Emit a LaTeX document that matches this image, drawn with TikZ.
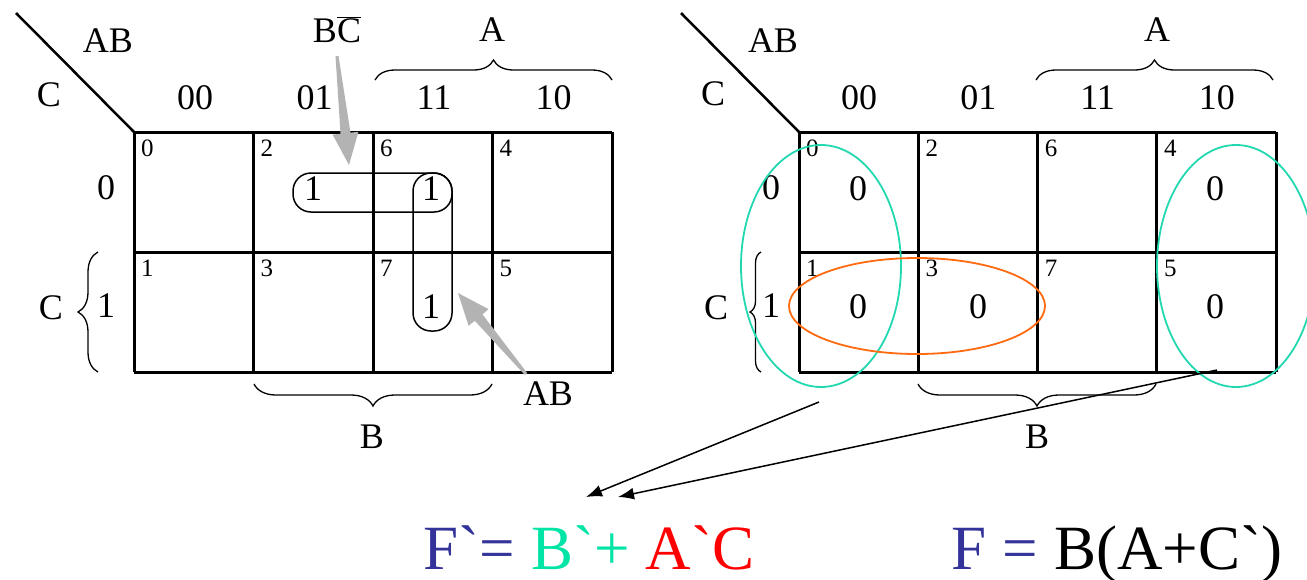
\documentclass[tikz,border=0pt]{standalone}
\usepackage{fontspec}
\newfontfamily\kfont{LiberationSerif-Regular.ttf}
\usetikzlibrary{arrows.meta,calc,decorations.pathreplacing}
\definecolor{eq-blue}{HTML}{333399}
\definecolor{eq-green}{HTML}{00E5A5}
\definecolor{ring-teal}{HTML}{22D8B0}
\definecolor{ring-orange}{HTML}{FF6A10}
\definecolor{hint-gray}{HTML}{B3B3B3}

% tapered grey hint arrow: tail, tip
\newcommand{\fatarrow}[2]{%
  \coordinate (fa-base) at ($(#2)!32pt!(#1)$);
  \fill[hint-gray] ($(#1)!1.5pt!90:(#2)$) -- ($(fa-base)!5pt!-90:(#1)$)
    -- ($(fa-base)!13pt!-90:(#1)$) -- (#2) -- ($(fa-base)!13pt!90:(#1)$)
    -- ($(fa-base)!5pt!90:(#1)$) -- ($(#1)!1.5pt!-90:(#2)$) -- cycle;}

\begin{document}
\begin{tikzpicture}[x=1pt, y=-1pt,
    every node/.style={font=\kfont\fontsize{36}{40}\selectfont, inner sep=0pt},
    cellnum/.style={font=\kfont\fontsize{25}{28}\selectfont, anchor=north west},
    kgrid/.style={line width=3pt},
    kdiag/.style={line width=2.5pt},
    brc/.style={decorate, decoration={brace, amplitude=#1}, line width=1.3pt},
    onesloop/.style={line width=1.5pt, rounded corners=18pt},
    ring/.style={line width=1.8pt},
    pointer/.style={line width=1.5pt, -{Latex[length=16pt, width=12pt]}},
    eqfont/.style={font=\kfont\fontsize{63}{70}\selectfont, anchor=base}]
  \useasboundingbox (0,0) rectangle (1307,579);

  % ---- left map: the ones of F
  \draw[kdiag] (16,13) -- (134,132);
  \foreach \k in {0,...,4}
    \draw[kgrid] (134+119.5*\k,132) -- (134+119.5*\k,372);
  \foreach \r in {0,1,2}
    \draw[kgrid] (134,132+120*\r) -- (612,132+120*\r);
  \foreach \n [count=\k from 0] in {0,2,6,4}
    \node[cellnum] (L-n\n) at (141+119.5*\k,140) {\n};
  \foreach \n [count=\k from 0] in {1,3,7,5}
    \node[cellnum] (L-n\n) at (141+119.5*\k,260) {\n};
  \node (L-ab) at (108,41) {AB};
  \node (L-c) at (49,95) {C};
  \foreach \lab [count=\k from 0] in {00,01,11,10}
    \node (L-col\lab) at (195+119.5*\k,98) {\lab};
  \node (L-a) at (492,30) {A};
  \node (L-bc) at (337,30) {B$\overline{\hbox{C}}$};
  \node (L-r0) at (106,188) {0};
  \node (L-r1) at (106,306) {1};
  \node (L-cc) at (51,308) {C};
  \node (L-b) at (372,437) {B};
  \node (L-abx) at (548,394) {AB};
  \draw[brc=20] (375,80) -- (612,80);
  \draw[brc=20] (98,372) -- (98,252);
  \draw[brc=22] (492,384) -- (254,384);
  \node (L-one2) at (313,189) {1};
  \node (L-one6) at (431,189) {1};
  \node (L-one7) at (431,307) {1};
  \draw[onesloop] (293,173) rectangle (452,212);
  \draw[onesloop] (413,173) rectangle (452,331);
  \coordinate (L-bctail) at (337,56);
  \coordinate (L-bctip) at (349,165);
  \coordinate (L-abtail) at (526,374);
  \coordinate (L-abtip) at (458,293);
  \fatarrow{L-bctail}{L-bctip}
  \fatarrow{L-abtail}{L-abtip}

  % ---- right map: the zeros of F
  \draw[kdiag] (681,13) -- (799,132);
  \foreach \k in {0,...,4}
    \draw[kgrid] (799+119.3*\k,132) -- (799+119.3*\k,372);
  \foreach \r in {0,1,2}
    \draw[kgrid] (799,132+120*\r) -- (1276,132+120*\r);
  \foreach \n [count=\k from 0] in {0,2,6,4}
    \node[cellnum] (R-n\n) at (806+119.3*\k,140) {\n};
  \foreach \n [count=\k from 0] in {1,3,7,5}
    \node[cellnum] (R-n\n) at (806+119.3*\k,260) {\n};
  \node (R-ab) at (773,41) {AB};
  \node (R-c) at (713,94) {C};
  \foreach \lab [count=\k from 0] in {00,01,11,10}
    \node (R-col\lab) at (859+119.3*\k,98) {\lab};
  \node (R-a) at (1157,30) {A};
  \node (R-r0) at (771,188) {0};
  \node (R-r1) at (771,306) {1};
  \node (R-cc) at (716,308) {C};
  \node (R-b) at (1037,437) {B};
  \draw[brc=20] (1036,80) -- (1273,80);
  \draw[brc=11] (761,372) -- (761,252);
  \draw[brc=22] (1156,384) -- (918,384);
  \node (R-zero0) at (858,189) {0};
  \node (R-zero4) at (1215,189) {0};
  \node (R-zero1) at (858,307) {0};
  \node (R-zero3) at (978,307) {0};
  \node (R-zero5) at (1215,307) {0};
  \draw[ring, ring-teal] (821,266) ellipse [x radius=80, y radius=121];
  \draw[ring, ring-teal] (1236,266) ellipse [x radius=79, y radius=121];
  \draw[ring, ring-orange] (917,306) ellipse [x radius=128, y radius=48];

  % ---- results
  \node[eqfont] (eq-comp) at (589,569)
    {\textcolor{eq-blue}{F`= }\textcolor{eq-green}{B`+ }\textcolor{red}{A`C}};
  \node[eqfont] (eq-func) at (1117,569) {\textcolor{eq-blue}{F = }B(A+C`)};
  \coordinate (R-from1) at (819,402);
  \coordinate (R-from2) at (1217,370);
  \coordinate (eq-tip1) at (586,497);
  \coordinate (eq-tip2) at (618,497);
  \draw[pointer] (R-from1) -- (eq-tip1);
  \draw[pointer] (R-from2) -- (eq-tip2);
\end{tikzpicture}
\end{document}
